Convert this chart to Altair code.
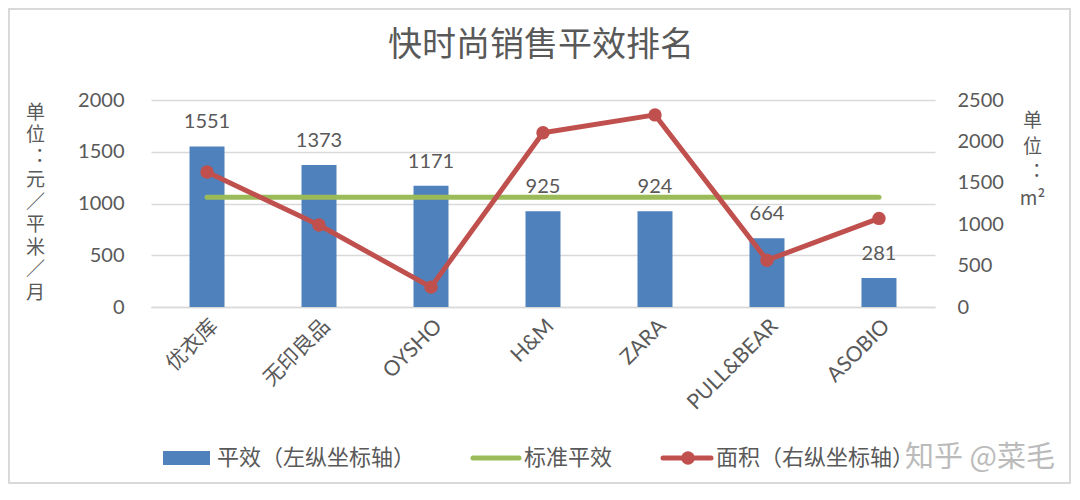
import altair as alt
import pandas as pd

# ---- data ----
categories = ["优衣库", "无印良品", "OYSHO", "H&M", "ZARA", "PULL&BEAR", "ASOBIO"]
ping_xiao = [1551, 1373, 1171, 925, 924, 664, 281]          # 平效 (left axis)
area = [1630, 990, 240, 2105, 2320, 565, 1070]              # 面积 (right axis)
standard = [1060, 1060, 1060, 1060, 1060, 1060, 1060]       # 标准平效

left_ticks = [0, 500, 1000, 1500, 2000]
right_ticks = [0, 500, 1000, 1500, 2000, 2500]

legend_names = ["平效（左纵坐标轴）", "标准平效", "面积（右纵坐标轴）"]
title_text = "快时尚销售平效排名"
left_title = ["单", "位", "︓", "元", "／", "平", "米", "／", "月"]
right_title = ["单", "位", "︓", "m²"]
watermark = "知乎 @菜毛"

BLUE = "#4f81bd"
GREEN = "#9bbb59"
RED = "#c0504d"
GRAY = "#595959"
GRID = "#d9d9d9"
NUM_FONT = "Lato, 'Noto Sans CJK SC'"
CJK_FONT = "'Noto Sans CJK SC'"

df = pd.DataFrame({
    "name": categories,
    "pingxiao": ping_xiao,
    "area": area,
    "standard": standard,
})

W, H = 784, 207

x_enc = alt.X(
    "name:N",
    sort=categories,
    scale=alt.Scale(paddingInner=0.6875, paddingOuter=0.344),
    axis=alt.Axis(
        title=None,
        labelAngle=315,
        labelFontSize=21,
        labelFont=NUM_FONT,
        labelColor=GRAY,
        labelPadding=8,
        ticks=False,
        domain=True,
        domainColor=GRID,
        domainWidth=1.5,
    ),
)

y_left_scale = alt.Scale(domain=[0, 2000], nice=False)
y_left_axis = alt.Axis(
    values=left_ticks,
    format="d",
    grid=True,
    gridColor=GRID,
    gridWidth=1.5,
    ticks=False,
    domain=False,
    labelFontSize=20,
    labelFont=NUM_FONT,
    labelColor=GRAY,
    labelPadding=27,
    title=left_title,
    titleAngle=0,
    titleFont=CJK_FONT,
    titleFontSize=19,
    titleFontWeight="normal",
    titleColor=GRAY,
    titleLineHeight=22.5,
    titleAlign="center",
    titleBaseline="top",
    titleX=-116,
    titleY=3,
)

y_right_scale = alt.Scale(domain=[0, 2500], nice=False)
y_right_axis = alt.Axis(
    orient="right",
    values=right_ticks,
    format="d",
    grid=False,
    ticks=False,
    domain=False,
    labelFontSize=20,
    labelFont=NUM_FONT,
    labelColor=GRAY,
    labelPadding=22,
    title=right_title,
    titleAngle=0,
    titleFont=CJK_FONT,
    titleFontSize=19,
    titleFontWeight="normal",
    titleColor=GRAY,
    titleLineHeight=26,
    titleAlign="center",
    titleBaseline="top",
    titleX=97,
    titleY=11,
)

base = alt.Chart(df).encode(x=x_enc)

bars = base.mark_bar(color=BLUE).encode(
    y=alt.Y("pingxiao:Q", scale=y_left_scale, axis=y_left_axis)
)
bar_labels = base.mark_text(
    baseline="bottom", dy=-14, fontSize=20, font=NUM_FONT, color=GRAY
).encode(
    y=alt.Y("pingxiao:Q", scale=y_left_scale),
    text=alt.Text("pingxiao:Q"),
)
green = base.transform_calculate(pingxiao="datum.standard").mark_line(
    color=GREEN, strokeWidth=5, strokeCap="round"
).encode(
    y=alt.Y("pingxiao:Q", scale=y_left_scale)
)
left_layer = alt.layer(bars, green, bar_labels)

red_line = base.mark_line(color=RED, strokeWidth=5, strokeJoin="round").encode(
    y=alt.Y("area:Q", scale=y_right_scale, axis=y_right_axis)
)
red_pts = base.mark_point(filled=True, color=RED, size=180, opacity=1).encode(
    y=alt.Y("area:Q", scale=y_right_scale)
)
right_layer = alt.layer(red_line, red_pts)

# ---- title, legend and frame (drawn by hand around the plot) ----
one = pd.DataFrame({"k": [0]})
lg = alt.Chart(one)
title_mark = lg.mark_text(
    align="center", baseline="middle", fontSize=34, font=CJK_FONT, color=GRAY
).encode(x=alt.value(390), y=alt.value(-54), text=alt.value(title_text))

LY = 358
leg_blue = lg.mark_rect(color=BLUE).encode(
    x=alt.value(12), x2=alt.value(59), y=alt.value(LY - 7), y2=alt.value(LY + 7)
)
leg_t1 = lg.mark_text(align="left", baseline="middle", fontSize=22, font=CJK_FONT, color=GRAY).encode(
    x=alt.value(66), y=alt.value(LY), text=alt.value(legend_names[0])
)
leg_green = lg.mark_rule(color=GREEN, strokeWidth=5, strokeCap="round").encode(
    x=alt.value(322), x2=alt.value(368), y=alt.value(LY)
)
leg_t2 = lg.mark_text(align="left", baseline="middle", fontSize=22, font=CJK_FONT, color=GRAY).encode(
    x=alt.value(373), y=alt.value(LY), text=alt.value(legend_names[1])
)
leg_red = lg.mark_rule(color=RED, strokeWidth=5, strokeCap="round").encode(
    x=alt.value(512), x2=alt.value(560), y=alt.value(LY)
)
leg_red_pt = lg.mark_point(filled=True, color=RED, size=180, opacity=1).encode(
    x=alt.value(537), y=alt.value(LY)
)
leg_t3 = lg.mark_text(align="left", baseline="middle", fontSize=22, font=CJK_FONT, color=GRAY).encode(
    x=alt.value(565), y=alt.value(LY), text=alt.value(legend_names[2])
)
wm = lg.mark_text(align="left", baseline="middle", fontSize=29, font=CJK_FONT, color="#b0b0b0", opacity=0.85).encode(
    x=alt.value(754), y=alt.value(LY), text=alt.value(watermark)
)
border = lg.mark_rect(fill="transparent", stroke=GRID, strokeWidth=2).encode(
    x=alt.value(-142), x2=alt.value(919), y=alt.value(-91), y2=alt.value(383)
)

chart = alt.layer(
    left_layer, right_layer, title_mark,
    leg_blue, leg_t1, leg_green, leg_t2, leg_red, leg_red_pt, leg_t3, wm, border,
).resolve_scale(y="independent").properties(
    width=W,
    height=H,
    autosize=alt.AutoSizeParams(type="none"),
    padding={"left": 143, "top": 92, "right": 137, "bottom": 185},
).configure_view(stroke=None)

chart.save("out.html", embed_options={"renderer": "svg", "actions": False})
